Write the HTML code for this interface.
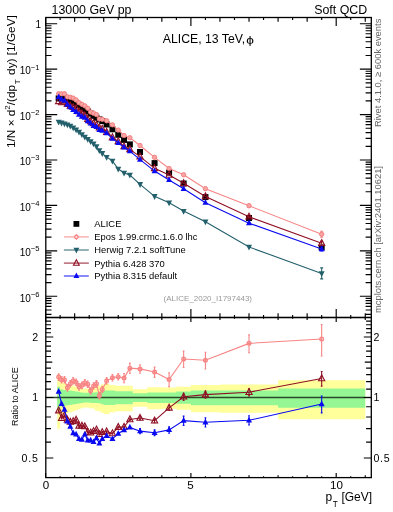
<!DOCTYPE html><html><head><meta charset="utf-8"><style>html,body{margin:0;padding:0;background:#fff;}svg{display:block;}text{font-family:"Liberation Sans",sans-serif;}svg{will-change:transform;}</style></head><body>
<svg width="393" height="512" viewBox="0 0 393 512">
<rect x="0" y="0" width="393" height="512" fill="#fff"/>
<path d="M57.22 374.60L60.13 374.60L60.13 382.32L63.04 382.32L63.04 383.27L65.94 383.27L65.94 384.17L68.85 384.17L68.85 384.92L71.75 384.92L71.75 385.53L74.66 385.53L74.66 386.45L77.57 386.45L77.57 387.22L80.47 387.22L80.47 388.00L83.38 388.00L83.38 388.55L86.28 388.55L86.28 388.55L89.19 388.55L89.19 388.00L92.10 388.00L92.10 387.61L95.00 387.61L95.00 386.06L97.91 386.06L97.91 385.68L100.81 385.68L100.81 384.54L103.72 384.54L103.72 383.65L109.53 383.65L109.53 384.92L115.34 384.92L115.34 385.68L121.16 385.68L121.16 385.68L126.97 385.68L126.97 385.68L132.78 385.68L132.78 389.18L147.31 389.18L147.31 387.22L161.84 387.22L161.84 387.61L176.37 387.61L176.37 386.83L190.90 386.83L190.90 384.92L219.96 384.92L219.96 384.54L278.08 384.54L278.08 380.14L365.26 380.14L365.26 419.19L278.08 419.19L278.08 412.72L219.96 412.72L219.96 412.20L190.90 412.20L190.90 409.66L176.37 409.66L176.37 408.66L161.84 408.66L161.84 409.16L147.31 409.16L147.31 406.70L132.78 406.70L132.78 411.17L126.97 411.17L126.97 411.17L121.16 411.17L121.16 411.17L115.34 411.17L115.34 412.20L109.53 412.20L109.53 413.98L103.72 413.98L103.72 412.72L100.81 412.72L100.81 411.17L97.91 411.17L97.91 410.67L95.00 410.67L95.00 408.66L92.10 408.66L92.10 408.16L89.19 408.16L89.19 407.48L86.28 407.48L86.28 407.48L83.38 407.48L83.38 408.16L80.47 408.16L80.47 409.16L77.57 409.16L77.57 410.16L74.66 410.16L74.66 411.38L71.75 411.38L71.75 412.20L68.85 412.20L68.85 413.24L65.94 413.24L65.94 414.50L63.04 414.50L63.04 415.89L60.13 415.89L60.13 428.64L57.22 428.64Z" fill="#ffff9c"/>
<path d="M57.22 386.83L60.13 386.83L60.13 389.58L63.04 389.58L63.04 390.06L65.94 390.06L65.94 390.38L68.85 390.38L68.85 390.62L71.75 390.62L71.75 390.94L74.66 390.94L74.66 391.43L77.57 391.43L77.57 391.92L80.47 391.92L80.47 392.41L83.38 392.41L83.38 392.74L86.28 392.74L86.28 392.74L89.19 392.74L89.19 392.58L92.10 392.58L92.10 392.41L95.00 392.41L95.00 392.33L97.91 392.33L97.91 392.00L100.81 392.00L100.81 391.19L103.72 391.19L103.72 390.62L109.53 390.62L109.53 390.54L115.34 390.54L115.34 391.19L121.16 391.19L121.16 391.19L126.97 391.19L126.97 391.19L132.78 391.19L132.78 393.24L147.31 393.24L147.31 392.41L161.84 392.41L161.84 392.41L176.37 392.41L176.37 391.59L190.90 391.59L190.90 390.38L219.96 390.38L219.96 390.38L278.08 390.38L278.08 388.39L365.26 388.39L365.26 407.67L278.08 407.67L278.08 405.25L219.96 405.25L219.96 405.25L190.90 405.25L190.90 403.83L176.37 403.83L176.37 402.90L161.84 402.90L161.84 402.90L147.31 402.90L147.31 401.98L132.78 401.98L132.78 404.31L126.97 404.31L126.97 404.31L121.16 404.31L121.16 404.31L115.34 404.31L115.34 405.06L109.53 405.06L109.53 404.97L103.72 404.97L103.72 404.31L100.81 404.31L100.81 403.37L97.91 403.37L97.91 402.99L95.00 402.99L95.00 402.90L92.10 402.90L92.10 402.72L89.19 402.72L89.19 402.53L86.28 402.53L86.28 402.53L83.38 402.53L83.38 402.90L80.47 402.90L80.47 403.46L77.57 403.46L77.57 404.02L74.66 404.02L74.66 404.59L71.75 404.59L71.75 404.97L68.85 404.97L68.85 405.25L65.94 405.25L65.94 405.64L63.04 405.64L63.04 406.21L60.13 406.21L60.13 409.66L57.22 409.66Z" fill="#94f794"/>
<line x1="45.8" y1="397.50" x2="371.3" y2="397.50" stroke="#2a4a2a" stroke-width="1.3"/>
<g stroke="#000" stroke-width="1.3" fill="none">
<rect x="45.8" y="17.5" width="325.5" height="300.0"/>
<rect x="45.8" y="317.5" width="325.5" height="160.10000000000002"/>
</g>
<path d="M45.60 17.50L45.60 26.00M45.60 317.50L45.60 309.00M45.60 317.50L45.60 322.10M45.60 477.60L45.60 473.00M60.13 17.50L60.13 20.10M60.13 317.50L60.13 314.90M60.13 317.50L60.13 318.80M60.13 477.60L60.13 476.30M74.66 17.50L74.66 21.80M74.66 317.50L74.66 313.20M74.66 317.50L74.66 319.90M74.66 477.60L74.66 475.20M89.19 17.50L89.19 20.10M89.19 317.50L89.19 314.90M89.19 317.50L89.19 318.80M89.19 477.60L89.19 476.30M103.72 17.50L103.72 21.80M103.72 317.50L103.72 313.20M103.72 317.50L103.72 319.90M103.72 477.60L103.72 475.20M118.25 17.50L118.25 20.10M118.25 317.50L118.25 314.90M118.25 317.50L118.25 318.80M118.25 477.60L118.25 476.30M132.78 17.50L132.78 21.80M132.78 317.50L132.78 313.20M132.78 317.50L132.78 319.90M132.78 477.60L132.78 475.20M147.31 17.50L147.31 20.10M147.31 317.50L147.31 314.90M147.31 317.50L147.31 318.80M147.31 477.60L147.31 476.30M161.84 17.50L161.84 21.80M161.84 317.50L161.84 313.20M161.84 317.50L161.84 319.90M161.84 477.60L161.84 475.20M176.37 17.50L176.37 20.10M176.37 317.50L176.37 314.90M176.37 317.50L176.37 318.80M176.37 477.60L176.37 476.30M190.90 17.50L190.90 26.00M190.90 317.50L190.90 309.00M190.90 317.50L190.90 322.10M190.90 477.60L190.90 473.00M205.43 17.50L205.43 20.10M205.43 317.50L205.43 314.90M205.43 317.50L205.43 318.80M205.43 477.60L205.43 476.30M219.96 17.50L219.96 21.80M219.96 317.50L219.96 313.20M219.96 317.50L219.96 319.90M219.96 477.60L219.96 475.20M234.49 17.50L234.49 20.10M234.49 317.50L234.49 314.90M234.49 317.50L234.49 318.80M234.49 477.60L234.49 476.30M249.02 17.50L249.02 21.80M249.02 317.50L249.02 313.20M249.02 317.50L249.02 319.90M249.02 477.60L249.02 475.20M263.55 17.50L263.55 20.10M263.55 317.50L263.55 314.90M263.55 317.50L263.55 318.80M263.55 477.60L263.55 476.30M278.08 17.50L278.08 21.80M278.08 317.50L278.08 313.20M278.08 317.50L278.08 319.90M278.08 477.60L278.08 475.20M292.61 17.50L292.61 20.10M292.61 317.50L292.61 314.90M292.61 317.50L292.61 318.80M292.61 477.60L292.61 476.30M307.14 17.50L307.14 21.80M307.14 317.50L307.14 313.20M307.14 317.50L307.14 319.90M307.14 477.60L307.14 475.20M321.67 17.50L321.67 20.10M321.67 317.50L321.67 314.90M321.67 317.50L321.67 318.80M321.67 477.60L321.67 476.30M336.20 17.50L336.20 26.00M336.20 317.50L336.20 309.00M336.20 317.50L336.20 322.10M336.20 477.60L336.20 473.00M350.73 17.50L350.73 20.10M350.73 317.50L350.73 314.90M350.73 317.50L350.73 318.80M350.73 477.60L350.73 476.30M365.26 17.50L365.26 21.80M365.26 317.50L365.26 313.20M365.26 317.50L365.26 319.90M365.26 477.60L365.26 475.20M45.80 314.36L51.50 314.36M371.30 314.36L365.60 314.36M45.80 309.96L51.50 309.96M371.30 309.96L365.60 309.96M45.80 306.36L51.50 306.36M371.30 306.36L365.60 306.36M45.80 303.32L51.50 303.32M371.30 303.32L365.60 303.32M45.80 300.68L51.50 300.68M371.30 300.68L365.60 300.68M45.80 298.36L51.50 298.36M371.30 298.36L365.60 298.36M45.80 296.28L57.20 296.28M371.30 296.28L359.90 296.28M45.80 282.60L51.50 282.60M371.30 282.60L365.60 282.60M45.80 274.60L51.50 274.60M371.30 274.60L365.60 274.60M45.80 268.93L51.50 268.93M371.30 268.93L365.60 268.93M45.80 264.53L51.50 264.53M371.30 264.53L365.60 264.53M45.80 260.93L51.50 260.93M371.30 260.93L365.60 260.93M45.80 257.89L51.50 257.89M371.30 257.89L365.60 257.89M45.80 255.25L51.50 255.25M371.30 255.25L365.60 255.25M45.80 252.93L51.50 252.93M371.30 252.93L365.60 252.93M45.80 250.85L57.20 250.85M371.30 250.85L359.90 250.85M45.80 237.17L51.50 237.17M371.30 237.17L365.60 237.17M45.80 229.17L51.50 229.17M371.30 229.17L365.60 229.17M45.80 223.50L51.50 223.50M371.30 223.50L365.60 223.50M45.80 219.10L51.50 219.10M371.30 219.10L365.60 219.10M45.80 215.50L51.50 215.50M371.30 215.50L365.60 215.50M45.80 212.46L51.50 212.46M371.30 212.46L365.60 212.46M45.80 209.82L51.50 209.82M371.30 209.82L365.60 209.82M45.80 207.50L51.50 207.50M371.30 207.50L365.60 207.50M45.80 205.42L57.20 205.42M371.30 205.42L359.90 205.42M45.80 191.74L51.50 191.74M371.30 191.74L365.60 191.74M45.80 183.74L51.50 183.74M371.30 183.74L365.60 183.74M45.80 178.07L51.50 178.07M371.30 178.07L365.60 178.07M45.80 173.67L51.50 173.67M371.30 173.67L365.60 173.67M45.80 170.07L51.50 170.07M371.30 170.07L365.60 170.07M45.80 167.03L51.50 167.03M371.30 167.03L365.60 167.03M45.80 164.39L51.50 164.39M371.30 164.39L365.60 164.39M45.80 162.07L51.50 162.07M371.30 162.07L365.60 162.07M45.80 159.99L57.20 159.99M371.30 159.99L359.90 159.99M45.80 146.31L51.50 146.31M371.30 146.31L365.60 146.31M45.80 138.31L51.50 138.31M371.30 138.31L365.60 138.31M45.80 132.64L51.50 132.64M371.30 132.64L365.60 132.64M45.80 128.24L51.50 128.24M371.30 128.24L365.60 128.24M45.80 124.64L51.50 124.64M371.30 124.64L365.60 124.64M45.80 121.60L51.50 121.60M371.30 121.60L365.60 121.60M45.80 118.96L51.50 118.96M371.30 118.96L365.60 118.96M45.80 116.64L51.50 116.64M371.30 116.64L365.60 116.64M45.80 114.56L57.20 114.56M371.30 114.56L359.90 114.56M45.80 100.88L51.50 100.88M371.30 100.88L365.60 100.88M45.80 92.88L51.50 92.88M371.30 92.88L365.60 92.88M45.80 87.21L51.50 87.21M371.30 87.21L365.60 87.21M45.80 82.81L51.50 82.81M371.30 82.81L365.60 82.81M45.80 79.21L51.50 79.21M371.30 79.21L365.60 79.21M45.80 76.17L51.50 76.17M371.30 76.17L365.60 76.17M45.80 73.53L51.50 73.53M371.30 73.53L365.60 73.53M45.80 71.21L51.50 71.21M371.30 71.21L365.60 71.21M45.80 69.13L57.20 69.13M371.30 69.13L359.90 69.13M45.80 55.45L51.50 55.45M371.30 55.45L365.60 55.45M45.80 47.45L51.50 47.45M371.30 47.45L365.60 47.45M45.80 41.78L51.50 41.78M371.30 41.78L365.60 41.78M45.80 37.38L51.50 37.38M371.30 37.38L365.60 37.38M45.80 33.78L51.50 33.78M371.30 33.78L365.60 33.78M45.80 30.74L51.50 30.74M371.30 30.74L365.60 30.74M45.80 28.10L51.50 28.10M371.30 28.10L365.60 28.10M45.80 25.78L51.50 25.78M371.30 25.78L365.60 25.78M45.80 23.70L57.20 23.70M371.30 23.70L359.90 23.70M45.80 477.49L51.00 477.49M371.30 477.49L366.10 477.49M45.80 458.01L53.30 458.01M371.30 458.01L363.80 458.01M45.80 442.09L51.00 442.09M371.30 442.09L366.10 442.09M45.80 428.64L51.00 428.64M371.30 428.64L366.10 428.64M45.80 416.98L51.00 416.98M371.30 416.98L366.10 416.98M45.80 406.70L51.00 406.70M371.30 406.70L366.10 406.70M45.80 397.50L53.30 397.50M371.30 397.50L363.80 397.50M45.80 389.18L51.00 389.18M371.30 389.18L366.10 389.18M45.80 381.58L51.00 381.58M371.30 381.58L366.10 381.58M45.80 374.60L51.00 374.60M371.30 374.60L366.10 374.60M45.80 368.13L51.00 368.13M371.30 368.13L366.10 368.13M45.80 362.11L52.30 362.11M371.30 362.11L364.80 362.11M45.80 356.47L51.00 356.47M371.30 356.47L366.10 356.47M45.80 351.18L51.00 351.18M371.30 351.18L366.10 351.18M45.80 346.19L51.00 346.19M371.30 346.19L366.10 346.19M45.80 341.47L51.00 341.47M371.30 341.47L366.10 341.47M45.80 336.99L53.30 336.99M371.30 336.99L363.80 336.99M45.80 332.73L51.00 332.73M371.30 332.73L366.10 332.73M45.80 328.67L51.00 328.67M371.30 328.67L366.10 328.67M45.80 324.79L51.00 324.79M371.30 324.79L366.10 324.79M45.80 321.08L51.00 321.08M371.30 321.08L366.10 321.08M45.80 317.51L51.00 317.51M371.30 317.51L366.10 317.51" stroke="#000" stroke-width="1.15" fill="none"/>
<text x="51.50" y="14.30" font-size="12.4" text-anchor="start" >13000 GeV pp</text>
<text x="367.20" y="14.30" font-size="12.4" text-anchor="end" >Soft QCD</text>
<text x="162.80" y="43.20" font-size="12.25" text-anchor="start" >ALICE, 13 TeV,</text>
<text transform="translate(246.3,43.9) scale(1.12,0.93)" font-size="12.25">ϕ</text>
<text x="41.00" y="27.50" font-size="10" text-anchor="end" >1</text>
<text x="30.90" y="74.43" font-size="10" text-anchor="end">10</text>
<text x="30.70" y="69.63" font-size="7.6" letter-spacing="0.1">−1</text>
<text x="30.90" y="119.86" font-size="10" text-anchor="end">10</text>
<text x="30.70" y="115.06" font-size="7.6" letter-spacing="0.1">−2</text>
<text x="30.90" y="165.29" font-size="10" text-anchor="end">10</text>
<text x="30.70" y="160.49" font-size="7.6" letter-spacing="0.1">−3</text>
<text x="30.90" y="210.72" font-size="10" text-anchor="end">10</text>
<text x="30.70" y="205.92" font-size="7.6" letter-spacing="0.1">−4</text>
<text x="30.90" y="256.15" font-size="10" text-anchor="end">10</text>
<text x="30.70" y="251.35" font-size="7.6" letter-spacing="0.1">−5</text>
<text x="30.90" y="301.58" font-size="10" text-anchor="end">10</text>
<text x="30.70" y="296.78" font-size="7.6" letter-spacing="0.1">−6</text>
<text x="46.10" y="489.00" font-size="11.6" text-anchor="middle" >0</text>
<text x="190.50" y="489.00" font-size="11.6" text-anchor="middle" >5</text>
<text x="336.50" y="489.00" font-size="11.6" text-anchor="middle" >10</text>
<text x="38.20" y="340.79" font-size="10.6" text-anchor="end" >2</text>
<text x="373.50" y="340.79" font-size="10.6" text-anchor="start" >2</text>
<text x="38.20" y="401.30" font-size="10.6" text-anchor="end" >1</text>
<text x="373.50" y="401.30" font-size="10.6" text-anchor="start" >1</text>
<text x="21.6" y="461.81" font-size="10.6" textLength="16.2" lengthAdjust="spacing">0.5</text>
<text x="373.5" y="461.81" font-size="10.6" textLength="16.2" lengthAdjust="spacing">0.5</text>
<text transform="translate(15.1,148) rotate(-90)" font-size="11.8">1/N × d<tspan dy="-5" font-size="8">2</tspan><tspan dy="5">/(dp</tspan><tspan dy="4.5" dx="0.6" font-size="8">T</tspan><tspan dy="-4.5" dx="1.2"> dy) [1/GeV]</tspan></text>
<text transform="translate(18.0,426) rotate(-90)" font-size="9.3" textLength="58.6" lengthAdjust="spacingAndGlyphs">Ratio to ALICE</text>
<text transform="translate(380.5,127) rotate(-90)" font-size="9.4" fill="#666">Rivet 4.1.0, ≥ 600k events</text>
<text transform="translate(380.5,313) rotate(-90)" font-size="9.4" fill="#666">mcplots.cern.ch [arXiv:2401.10621]</text>
<text x="163.50" y="300.50" font-size="8.0" text-anchor="start" fill="#999">(ALICE_2020_I1797443)</text>
<text x="325.4" y="501.1" font-size="12">p<tspan dy="5.5" dx="0.6" font-size="8.2">T</tspan><tspan dy="-5.5" dx="0.4"> [GeV]</tspan></text>
<defs><clipPath id="cm"><rect x="45.8" y="17.5" width="325.5" height="300.0"/></clipPath><clipPath id="cr"><rect x="45.8" y="317.5" width="325.5" height="160.10000000000002"/></clipPath></defs>
<g clip-path="url(#cm)">
<polyline points="58.68,122.00 61.58,122.80 64.49,123.60 67.39,124.70 70.30,125.90 73.21,127.70 76.11,129.70 79.02,131.90 81.92,134.40 84.83,137.00 87.74,139.20 90.64,141.40 93.55,143.60 96.45,146.50 99.36,150.50 102.27,153.30 106.63,157.10 112.44,160.90 118.25,169.00 124.06,172.90 129.87,175.00 140.04,184.30 154.57,196.30 169.10,202.70 183.63,211.10 205.43,221.70 249.02,247.00 321.67,273.40" fill="none" stroke="#23606b" stroke-width="1.1"/>
<path d="M321.67 267.90L321.67 278.90M320.17 267.90L323.17 267.90M320.17 278.90L323.17 278.90" stroke="#23606b" stroke-width="1.1"/>
<path d="M58.68 125.61L61.68 119.79L55.68 119.79Z" fill="#23606b"/>
<path d="M61.58 126.41L64.58 120.59L58.58 120.59Z" fill="#23606b"/>
<path d="M64.49 127.21L67.49 121.39L61.49 121.39Z" fill="#23606b"/>
<path d="M67.39 128.31L70.39 122.49L64.39 122.49Z" fill="#23606b"/>
<path d="M70.30 129.51L73.30 123.69L67.30 123.69Z" fill="#23606b"/>
<path d="M73.21 131.31L76.21 125.49L70.21 125.49Z" fill="#23606b"/>
<path d="M76.11 133.31L79.11 127.49L73.11 127.49Z" fill="#23606b"/>
<path d="M79.02 135.51L82.02 129.69L76.02 129.69Z" fill="#23606b"/>
<path d="M81.92 138.01L84.92 132.19L78.92 132.19Z" fill="#23606b"/>
<path d="M84.83 140.61L87.83 134.79L81.83 134.79Z" fill="#23606b"/>
<path d="M87.74 142.81L90.74 136.99L84.74 136.99Z" fill="#23606b"/>
<path d="M90.64 145.01L93.64 139.19L87.64 139.19Z" fill="#23606b"/>
<path d="M93.55 147.21L96.55 141.39L90.55 141.39Z" fill="#23606b"/>
<path d="M96.45 150.11L99.45 144.29L93.45 144.29Z" fill="#23606b"/>
<path d="M99.36 154.11L102.36 148.29L96.36 148.29Z" fill="#23606b"/>
<path d="M102.27 156.91L105.27 151.09L99.27 151.09Z" fill="#23606b"/>
<path d="M106.63 160.71L109.63 154.89L103.63 154.89Z" fill="#23606b"/>
<path d="M112.44 164.51L115.44 158.69L109.44 158.69Z" fill="#23606b"/>
<path d="M118.25 172.61L121.25 166.79L115.25 166.79Z" fill="#23606b"/>
<path d="M124.06 176.51L127.06 170.69L121.06 170.69Z" fill="#23606b"/>
<path d="M129.87 178.61L132.87 172.79L126.87 172.79Z" fill="#23606b"/>
<path d="M140.04 187.91L143.04 182.09L137.04 182.09Z" fill="#23606b"/>
<path d="M154.57 199.91L157.57 194.09L151.57 194.09Z" fill="#23606b"/>
<path d="M169.10 206.31L172.10 200.49L166.10 200.49Z" fill="#23606b"/>
<path d="M183.63 214.71L186.63 208.89L180.63 208.89Z" fill="#23606b"/>
<path d="M205.43 225.31L208.43 219.49L202.43 219.49Z" fill="#23606b"/>
<path d="M249.02 250.61L252.02 244.79L246.02 244.79Z" fill="#23606b"/>
<path d="M321.67 277.01L324.67 271.19L318.67 271.19Z" fill="#23606b"/>
<rect x="55.68" y="95.40" width="6.0" height="6.0" fill="#000"/>
<rect x="58.58" y="94.90" width="6.0" height="6.0" fill="#000"/>
<rect x="61.49" y="94.80" width="6.0" height="6.0" fill="#000"/>
<rect x="64.39" y="96.10" width="6.0" height="6.0" fill="#000"/>
<rect x="67.30" y="97.40" width="6.0" height="6.0" fill="#000"/>
<rect x="70.21" y="98.90" width="6.0" height="6.0" fill="#000"/>
<rect x="73.11" y="100.40" width="6.0" height="6.0" fill="#000"/>
<rect x="76.02" y="102.10" width="6.0" height="6.0" fill="#000"/>
<rect x="78.92" y="104.10" width="6.0" height="6.0" fill="#000"/>
<rect x="81.83" y="106.20" width="6.0" height="6.0" fill="#000"/>
<rect x="84.74" y="108.30" width="6.0" height="6.0" fill="#000"/>
<rect x="87.64" y="110.60" width="6.0" height="6.0" fill="#000"/>
<rect x="90.55" y="112.80" width="6.0" height="6.0" fill="#000"/>
<rect x="93.45" y="114.70" width="6.0" height="6.0" fill="#000"/>
<rect x="96.36" y="116.40" width="6.0" height="6.0" fill="#000"/>
<rect x="99.27" y="118.10" width="6.0" height="6.0" fill="#000"/>
<rect x="103.63" y="121.50" width="6.0" height="6.0" fill="#000"/>
<rect x="109.44" y="126.30" width="6.0" height="6.0" fill="#000"/>
<rect x="115.25" y="131.80" width="6.0" height="6.0" fill="#000"/>
<rect x="121.06" y="136.90" width="6.0" height="6.0" fill="#000"/>
<rect x="126.87" y="141.40" width="6.0" height="6.0" fill="#000"/>
<rect x="137.04" y="149.00" width="6.0" height="6.0" fill="#000"/>
<rect x="151.57" y="160.10" width="6.0" height="6.0" fill="#000"/>
<rect x="166.10" y="169.60" width="6.0" height="6.0" fill="#000"/>
<rect x="180.63" y="180.50" width="6.0" height="6.0" fill="#000"/>
<rect x="202.43" y="194.10" width="6.0" height="6.0" fill="#000"/>
<rect x="246.02" y="215.00" width="6.0" height="6.0" fill="#000"/>
<rect x="318.67" y="244.50" width="6.0" height="6.0" fill="#000"/>
<polyline points="58.68,93.79 61.58,93.88 64.49,93.78 67.39,96.90 70.30,97.29 73.21,98.11 76.11,99.95 79.02,102.67 81.92,104.34 84.83,105.85 87.74,108.29 90.64,112.08 93.55,113.18 96.45,114.60 99.36,118.95 102.27,119.27 106.63,120.72 112.44,124.83 118.25,130.10 124.06,135.50 129.87,137.76 140.04,145.53 154.57,157.36 169.10,168.53 183.63,174.79 205.43,188.68 249.02,205.77 321.67,234.26" fill="none" stroke="#f88585" stroke-width="1.1"/>
<path d="M249.02 204.27L249.02 207.27M247.52 204.27L250.52 204.27M247.52 207.27L250.52 207.27" stroke="#f88585" stroke-width="1.1"/>
<path d="M321.67 231.26L321.67 237.26M320.17 231.26L323.17 231.26M320.17 237.26L323.17 237.26" stroke="#f88585" stroke-width="1.1"/>
<path d="M205.43 187.68L205.43 189.68M203.93 187.68L206.93 187.68M203.93 189.68L206.93 189.68" stroke="#f88585" stroke-width="1.1"/>
<circle cx="58.68" cy="93.79" r="2.2" fill="#f9a5a5" stroke="#f27a7a" stroke-width="0.9"/>
<circle cx="61.58" cy="93.88" r="2.2" fill="#f9a5a5" stroke="#f27a7a" stroke-width="0.9"/>
<circle cx="64.49" cy="93.78" r="2.2" fill="#f9a5a5" stroke="#f27a7a" stroke-width="0.9"/>
<circle cx="67.39" cy="96.90" r="2.2" fill="#f9a5a5" stroke="#f27a7a" stroke-width="0.9"/>
<circle cx="70.30" cy="97.29" r="2.2" fill="#f9a5a5" stroke="#f27a7a" stroke-width="0.9"/>
<circle cx="73.21" cy="98.11" r="2.2" fill="#f9a5a5" stroke="#f27a7a" stroke-width="0.9"/>
<circle cx="76.11" cy="99.95" r="2.2" fill="#f9a5a5" stroke="#f27a7a" stroke-width="0.9"/>
<circle cx="79.02" cy="102.67" r="2.2" fill="#f9a5a5" stroke="#f27a7a" stroke-width="0.9"/>
<circle cx="81.92" cy="104.34" r="2.2" fill="#f9a5a5" stroke="#f27a7a" stroke-width="0.9"/>
<circle cx="84.83" cy="105.85" r="2.2" fill="#f9a5a5" stroke="#f27a7a" stroke-width="0.9"/>
<circle cx="87.74" cy="108.29" r="2.2" fill="#f9a5a5" stroke="#f27a7a" stroke-width="0.9"/>
<circle cx="90.64" cy="112.08" r="2.2" fill="#f9a5a5" stroke="#f27a7a" stroke-width="0.9"/>
<circle cx="93.55" cy="113.18" r="2.2" fill="#f9a5a5" stroke="#f27a7a" stroke-width="0.9"/>
<circle cx="96.45" cy="114.60" r="2.2" fill="#f9a5a5" stroke="#f27a7a" stroke-width="0.9"/>
<circle cx="99.36" cy="118.95" r="2.2" fill="#f9a5a5" stroke="#f27a7a" stroke-width="0.9"/>
<circle cx="102.27" cy="119.27" r="2.2" fill="#f9a5a5" stroke="#f27a7a" stroke-width="0.9"/>
<circle cx="106.63" cy="120.72" r="2.2" fill="#f9a5a5" stroke="#f27a7a" stroke-width="0.9"/>
<circle cx="112.44" cy="124.83" r="2.2" fill="#f9a5a5" stroke="#f27a7a" stroke-width="0.9"/>
<circle cx="118.25" cy="130.10" r="2.2" fill="#f9a5a5" stroke="#f27a7a" stroke-width="0.9"/>
<circle cx="124.06" cy="135.50" r="2.2" fill="#f9a5a5" stroke="#f27a7a" stroke-width="0.9"/>
<circle cx="129.87" cy="137.76" r="2.2" fill="#f9a5a5" stroke="#f27a7a" stroke-width="0.9"/>
<circle cx="140.04" cy="145.53" r="2.2" fill="#f9a5a5" stroke="#f27a7a" stroke-width="0.9"/>
<circle cx="154.57" cy="157.36" r="2.2" fill="#f9a5a5" stroke="#f27a7a" stroke-width="0.9"/>
<circle cx="169.10" cy="168.53" r="2.2" fill="#f9a5a5" stroke="#f27a7a" stroke-width="0.9"/>
<circle cx="183.63" cy="174.79" r="2.2" fill="#f9a5a5" stroke="#f27a7a" stroke-width="0.9"/>
<circle cx="205.43" cy="188.68" r="2.2" fill="#f9a5a5" stroke="#f27a7a" stroke-width="0.9"/>
<circle cx="249.02" cy="205.77" r="2.2" fill="#f9a5a5" stroke="#f27a7a" stroke-width="0.9"/>
<circle cx="321.67" cy="234.26" r="2.2" fill="#f9a5a5" stroke="#f27a7a" stroke-width="0.9"/>
<polyline points="58.68,101.38 61.58,102.58 64.49,101.88 67.39,104.15 70.30,105.94 73.21,107.29 76.11,108.45 79.02,111.53 81.92,113.53 84.83,115.76 87.74,119.11 90.64,121.56 93.55,123.44 96.45,124.99 99.36,127.72 102.27,128.97 106.63,132.20 112.44,137.44 118.25,141.50 124.06,146.57 129.87,149.38 140.04,156.65 154.57,168.36 169.10,174.94 183.63,183.34 205.43,196.46 249.02,216.81 321.67,243.21" fill="none" stroke="#8f0f24" stroke-width="1.1"/>
<path d="M321.67 241.21L321.67 245.21M320.17 241.21L323.17 241.21M320.17 245.21L323.17 245.21" stroke="#8f0f24" stroke-width="1.1"/>
<path d="M249.02 216.01L249.02 217.61M247.52 216.01L250.52 216.01M247.52 217.61L250.52 217.61" stroke="#8f0f24" stroke-width="1.1"/>
<path d="M58.68 97.72L61.78 103.61L55.58 103.61Z" fill="none" stroke="#8f0f24" stroke-width="1.1"/>
<path d="M61.58 98.92L64.68 104.81L58.48 104.81Z" fill="none" stroke="#8f0f24" stroke-width="1.1"/>
<path d="M64.49 98.23L67.59 104.12L61.39 104.12Z" fill="none" stroke="#8f0f24" stroke-width="1.1"/>
<path d="M67.39 100.50L70.49 106.39L64.30 106.39Z" fill="none" stroke="#8f0f24" stroke-width="1.1"/>
<path d="M70.30 102.29L73.40 108.18L67.20 108.18Z" fill="none" stroke="#8f0f24" stroke-width="1.1"/>
<path d="M73.21 103.64L76.31 109.53L70.11 109.53Z" fill="none" stroke="#8f0f24" stroke-width="1.1"/>
<path d="M76.11 104.80L79.21 110.69L73.01 110.69Z" fill="none" stroke="#8f0f24" stroke-width="1.1"/>
<path d="M79.02 107.87L82.12 113.76L75.92 113.76Z" fill="none" stroke="#8f0f24" stroke-width="1.1"/>
<path d="M81.92 109.87L85.02 115.76L78.83 115.76Z" fill="none" stroke="#8f0f24" stroke-width="1.1"/>
<path d="M84.83 112.11L87.93 118.00L81.73 118.00Z" fill="none" stroke="#8f0f24" stroke-width="1.1"/>
<path d="M87.74 115.46L90.84 121.35L84.64 121.35Z" fill="none" stroke="#8f0f24" stroke-width="1.1"/>
<path d="M90.64 117.91L93.74 123.80L87.54 123.80Z" fill="none" stroke="#8f0f24" stroke-width="1.1"/>
<path d="M93.55 119.79L96.65 125.68L90.45 125.68Z" fill="none" stroke="#8f0f24" stroke-width="1.1"/>
<path d="M96.45 121.34L99.55 127.23L93.36 127.23Z" fill="none" stroke="#8f0f24" stroke-width="1.1"/>
<path d="M99.36 124.07L102.46 129.96L96.26 129.96Z" fill="none" stroke="#8f0f24" stroke-width="1.1"/>
<path d="M102.27 125.32L105.37 131.21L99.17 131.21Z" fill="none" stroke="#8f0f24" stroke-width="1.1"/>
<path d="M106.63 128.54L109.73 134.43L103.53 134.43Z" fill="none" stroke="#8f0f24" stroke-width="1.1"/>
<path d="M112.44 133.79L115.54 139.68L109.34 139.68Z" fill="none" stroke="#8f0f24" stroke-width="1.1"/>
<path d="M118.25 137.85L121.35 143.74L115.15 143.74Z" fill="none" stroke="#8f0f24" stroke-width="1.1"/>
<path d="M124.06 142.92L127.16 148.81L120.96 148.81Z" fill="none" stroke="#8f0f24" stroke-width="1.1"/>
<path d="M129.87 145.73L132.97 151.62L126.77 151.62Z" fill="none" stroke="#8f0f24" stroke-width="1.1"/>
<path d="M140.04 153.00L143.14 158.89L136.94 158.89Z" fill="none" stroke="#8f0f24" stroke-width="1.1"/>
<path d="M154.57 164.71L157.67 170.60L151.47 170.60Z" fill="none" stroke="#8f0f24" stroke-width="1.1"/>
<path d="M169.10 171.29L172.20 177.18L166.00 177.18Z" fill="none" stroke="#8f0f24" stroke-width="1.1"/>
<path d="M183.63 179.69L186.73 185.58L180.53 185.58Z" fill="none" stroke="#8f0f24" stroke-width="1.1"/>
<path d="M205.43 192.81L208.53 198.70L202.33 198.70Z" fill="none" stroke="#8f0f24" stroke-width="1.1"/>
<path d="M249.02 213.16L252.12 219.05L245.92 219.05Z" fill="none" stroke="#8f0f24" stroke-width="1.1"/>
<path d="M321.67 239.56L324.77 245.45L318.57 245.45Z" fill="none" stroke="#8f0f24" stroke-width="1.1"/>
<polyline points="58.68,97.05 61.58,99.31 64.49,100.52 67.39,104.49 70.30,106.96 73.21,109.95 76.11,111.72 79.02,114.47 81.92,116.63 84.83,117.52 87.74,120.99 90.64,123.29 93.55,125.85 96.45,126.88 99.36,129.78 102.27,130.47 106.63,133.15 112.44,138.67 118.25,142.94 124.06,147.25 129.87,151.16 140.04,159.61 154.57,171.06 169.10,179.92 183.63,188.73 205.43,202.70 249.02,223.16 321.67,248.97" fill="none" stroke="#0a0af0" stroke-width="1.1"/>
<path d="M321.67 246.97L321.67 250.97M320.17 246.97L323.17 246.97M320.17 250.97L323.17 250.97" stroke="#0a0af0" stroke-width="1.1"/>
<path d="M249.02 222.36L249.02 223.96M247.52 222.36L250.52 222.36M247.52 223.96L250.52 223.96" stroke="#0a0af0" stroke-width="1.1"/>
<path d="M58.68 93.51L61.68 99.21L55.68 99.21Z" fill="#0a0af0"/>
<path d="M61.58 95.78L64.58 101.48L58.58 101.48Z" fill="#0a0af0"/>
<path d="M64.49 96.99L67.49 102.69L61.49 102.69Z" fill="#0a0af0"/>
<path d="M67.39 100.95L70.39 106.65L64.39 106.65Z" fill="#0a0af0"/>
<path d="M70.30 103.43L73.30 109.13L67.30 109.13Z" fill="#0a0af0"/>
<path d="M73.21 106.42L76.21 112.12L70.21 112.12Z" fill="#0a0af0"/>
<path d="M76.11 108.18L79.11 113.88L73.11 113.88Z" fill="#0a0af0"/>
<path d="M79.02 110.93L82.02 116.63L76.02 116.63Z" fill="#0a0af0"/>
<path d="M81.92 113.09L84.92 118.79L78.92 118.79Z" fill="#0a0af0"/>
<path d="M84.83 113.98L87.83 119.68L81.83 119.68Z" fill="#0a0af0"/>
<path d="M87.74 117.45L90.74 123.15L84.74 123.15Z" fill="#0a0af0"/>
<path d="M90.64 119.75L93.64 125.45L87.64 125.45Z" fill="#0a0af0"/>
<path d="M93.55 122.31L96.55 128.01L90.55 128.01Z" fill="#0a0af0"/>
<path d="M96.45 123.34L99.45 129.04L93.45 129.04Z" fill="#0a0af0"/>
<path d="M99.36 126.24L102.36 131.94L96.36 131.94Z" fill="#0a0af0"/>
<path d="M102.27 126.93L105.27 132.63L99.27 132.63Z" fill="#0a0af0"/>
<path d="M106.63 129.62L109.63 135.32L103.63 135.32Z" fill="#0a0af0"/>
<path d="M112.44 135.13L115.44 140.83L109.44 140.83Z" fill="#0a0af0"/>
<path d="M118.25 139.40L121.25 145.10L115.25 145.10Z" fill="#0a0af0"/>
<path d="M124.06 143.72L127.06 149.42L121.06 149.42Z" fill="#0a0af0"/>
<path d="M129.87 147.62L132.87 153.32L126.87 153.32Z" fill="#0a0af0"/>
<path d="M140.04 156.08L143.04 161.78L137.04 161.78Z" fill="#0a0af0"/>
<path d="M154.57 167.53L157.57 173.23L151.57 173.23Z" fill="#0a0af0"/>
<path d="M169.10 176.39L172.10 182.09L166.10 182.09Z" fill="#0a0af0"/>
<path d="M183.63 185.20L186.63 190.90L180.63 190.90Z" fill="#0a0af0"/>
<path d="M205.43 199.16L208.43 204.86L202.43 204.86Z" fill="#0a0af0"/>
<path d="M249.02 219.62L252.02 225.32L246.02 225.32Z" fill="#0a0af0"/>
<path d="M321.67 245.44L324.67 251.14L318.67 251.14Z" fill="#0a0af0"/>
</g>
<g clip-path="url(#cr)">
<polyline points="58.68,377.12 61.58,379.71 64.49,379.71 67.39,387.76 70.30,383.72 73.21,380.72 76.11,382.24 79.02,386.75 81.92,385.30 84.83,382.68 87.74,384.17 90.64,390.78 93.55,385.91 96.45,383.79 99.36,395.51 102.27,389.42 106.63,380.79 112.44,377.74 118.25,376.70 124.06,378.02 129.87,368.13 140.04,368.88 154.57,372.08 169.10,379.50 183.63,358.96 205.43,360.26 249.02,343.37 321.67,338.93" fill="none" stroke="#f88585" stroke-width="1.1"/>
<path d="M58.68 373.92L58.68 380.44M57.78 373.92L59.58 373.92M57.78 380.44L59.58 380.44" stroke="#f88585" stroke-width="1.1"/>
<circle cx="58.68" cy="377.12" r="1.8" fill="none" stroke="#f88585" stroke-width="1.4"/>
<path d="M61.58 376.51L61.58 383.04M60.68 376.51L62.48 376.51M60.68 383.04L62.48 383.04" stroke="#f88585" stroke-width="1.1"/>
<circle cx="61.58" cy="379.71" r="1.8" fill="none" stroke="#f88585" stroke-width="1.4"/>
<path d="M64.49 376.51L64.49 383.04M63.59 376.51L65.39 376.51M63.59 383.04L65.39 383.04" stroke="#f88585" stroke-width="1.1"/>
<circle cx="64.49" cy="379.71" r="1.8" fill="none" stroke="#f88585" stroke-width="1.4"/>
<path d="M67.39 384.56L67.39 391.08M66.49 384.56L68.30 384.56M66.49 391.08L68.30 391.08" stroke="#f88585" stroke-width="1.1"/>
<circle cx="67.39" cy="387.76" r="1.8" fill="none" stroke="#f88585" stroke-width="1.4"/>
<path d="M70.30 380.52L70.30 387.04M69.40 380.52L71.20 380.52M69.40 387.04L71.20 387.04" stroke="#f88585" stroke-width="1.1"/>
<circle cx="70.30" cy="383.72" r="1.8" fill="none" stroke="#f88585" stroke-width="1.4"/>
<path d="M73.21 377.52L73.21 384.04M72.31 377.52L74.11 377.52M72.31 384.04L74.11 384.04" stroke="#f88585" stroke-width="1.1"/>
<circle cx="73.21" cy="380.72" r="1.8" fill="none" stroke="#f88585" stroke-width="1.4"/>
<path d="M76.11 379.04L76.11 385.56M75.21 379.04L77.01 379.04M75.21 385.56L77.01 385.56" stroke="#f88585" stroke-width="1.1"/>
<circle cx="76.11" cy="382.24" r="1.8" fill="none" stroke="#f88585" stroke-width="1.4"/>
<path d="M79.02 383.55L79.02 390.08M78.12 383.55L79.92 383.55M78.12 390.08L79.92 390.08" stroke="#f88585" stroke-width="1.1"/>
<circle cx="79.02" cy="386.75" r="1.8" fill="none" stroke="#f88585" stroke-width="1.4"/>
<path d="M81.92 382.10L81.92 388.62M81.02 382.10L82.83 382.10M81.02 388.62L82.83 388.62" stroke="#f88585" stroke-width="1.1"/>
<circle cx="81.92" cy="385.30" r="1.8" fill="none" stroke="#f88585" stroke-width="1.4"/>
<path d="M84.83 379.48L84.83 386.00M83.93 379.48L85.73 379.48M83.93 386.00L85.73 386.00" stroke="#f88585" stroke-width="1.1"/>
<circle cx="84.83" cy="382.68" r="1.8" fill="none" stroke="#f88585" stroke-width="1.4"/>
<path d="M87.74 380.97L87.74 387.49M86.84 380.97L88.64 380.97M86.84 387.49L88.64 387.49" stroke="#f88585" stroke-width="1.1"/>
<circle cx="87.74" cy="384.17" r="1.8" fill="none" stroke="#f88585" stroke-width="1.4"/>
<path d="M90.64 387.58L90.64 394.10M89.74 387.58L91.54 387.58M89.74 394.10L91.54 394.10" stroke="#f88585" stroke-width="1.1"/>
<circle cx="90.64" cy="390.78" r="1.8" fill="none" stroke="#f88585" stroke-width="1.4"/>
<path d="M93.55 382.71L93.55 389.23M92.65 382.71L94.45 382.71M92.65 389.23L94.45 389.23" stroke="#f88585" stroke-width="1.1"/>
<circle cx="93.55" cy="385.91" r="1.8" fill="none" stroke="#f88585" stroke-width="1.4"/>
<path d="M96.45 380.59L96.45 387.12M95.55 380.59L97.36 380.59M95.55 387.12L97.36 387.12" stroke="#f88585" stroke-width="1.1"/>
<circle cx="96.45" cy="383.79" r="1.8" fill="none" stroke="#f88585" stroke-width="1.4"/>
<path d="M99.36 392.31L99.36 398.84M98.46 392.31L100.26 392.31M98.46 398.84L100.26 398.84" stroke="#f88585" stroke-width="1.1"/>
<circle cx="99.36" cy="395.51" r="1.8" fill="none" stroke="#f88585" stroke-width="1.4"/>
<path d="M102.27 386.22L102.27 392.74M101.37 386.22L103.17 386.22M101.37 392.74L103.17 392.74" stroke="#f88585" stroke-width="1.1"/>
<circle cx="102.27" cy="389.42" r="1.8" fill="none" stroke="#f88585" stroke-width="1.4"/>
<path d="M106.63 377.59L106.63 384.11M105.73 377.59L107.53 377.59M105.73 384.11L107.53 384.11" stroke="#f88585" stroke-width="1.1"/>
<circle cx="106.63" cy="380.79" r="1.8" fill="none" stroke="#f88585" stroke-width="1.4"/>
<path d="M112.44 374.54L112.44 381.06M111.54 374.54L113.34 374.54M111.54 381.06L113.34 381.06" stroke="#f88585" stroke-width="1.1"/>
<circle cx="112.44" cy="377.74" r="1.8" fill="none" stroke="#f88585" stroke-width="1.4"/>
<path d="M118.25 373.50L118.25 380.03M117.35 373.50L119.15 373.50M117.35 380.03L119.15 380.03" stroke="#f88585" stroke-width="1.1"/>
<circle cx="118.25" cy="376.70" r="1.8" fill="none" stroke="#f88585" stroke-width="1.4"/>
<path d="M124.06 373.52L124.06 382.77M123.16 373.52L124.96 373.52M123.16 382.77L124.96 382.77" stroke="#f88585" stroke-width="1.1"/>
<circle cx="124.06" cy="378.02" r="1.8" fill="none" stroke="#f88585" stroke-width="1.4"/>
<path d="M129.87 363.13L129.87 373.43M128.97 363.13L130.77 363.13M128.97 373.43L130.77 373.43" stroke="#f88585" stroke-width="1.1"/>
<circle cx="129.87" cy="368.13" r="1.8" fill="none" stroke="#f88585" stroke-width="1.4"/>
<path d="M140.04 364.68L140.04 373.29M139.14 364.68L140.94 364.68M139.14 373.29L140.94 373.29" stroke="#f88585" stroke-width="1.1"/>
<circle cx="140.04" cy="368.88" r="1.8" fill="none" stroke="#f88585" stroke-width="1.4"/>
<path d="M154.57 367.08L154.57 377.39M153.67 367.08L155.47 367.08M153.67 377.39L155.47 377.39" stroke="#f88585" stroke-width="1.1"/>
<circle cx="154.57" cy="372.08" r="1.8" fill="none" stroke="#f88585" stroke-width="1.4"/>
<path d="M169.10 372.90L169.10 386.64M168.20 372.90L170.00 372.90M168.20 386.64L170.00 386.64" stroke="#f88585" stroke-width="1.1"/>
<circle cx="169.10" cy="379.50" r="1.8" fill="none" stroke="#f88585" stroke-width="1.4"/>
<path d="M183.63 351.16L183.63 367.53M182.73 351.16L184.53 351.16M182.73 367.53L184.53 367.53" stroke="#f88585" stroke-width="1.1"/>
<circle cx="183.63" cy="358.96" r="1.8" fill="none" stroke="#f88585" stroke-width="1.4"/>
<path d="M205.43 352.26L205.43 369.07M204.53 352.26L206.33 352.26M204.53 369.07L206.33 369.07" stroke="#f88585" stroke-width="1.1"/>
<circle cx="205.43" cy="360.26" r="1.8" fill="none" stroke="#f88585" stroke-width="1.4"/>
<path d="M249.02 334.87L249.02 352.79M248.12 334.87L249.92 334.87M248.12 352.79L249.92 352.79" stroke="#f88585" stroke-width="1.1"/>
<circle cx="249.02" cy="343.37" r="1.8" fill="none" stroke="#f88585" stroke-width="1.4"/>
<path d="M321.67 324.63L321.67 356.05M320.77 324.63L322.57 324.63M320.77 356.05L322.57 356.05" stroke="#f88585" stroke-width="1.1"/>
<circle cx="321.67" cy="338.93" r="1.8" fill="none" stroke="#f88585" stroke-width="1.4"/>
<polyline points="58.68,410.67 61.58,418.19 64.49,415.57 67.39,419.86 70.30,422.03 73.21,421.34 76.11,419.86 79.02,425.93 81.92,425.93 84.83,426.54 87.74,432.07 90.64,432.72 93.55,431.29 96.45,429.76 99.36,434.30 102.27,432.33 106.63,431.55 112.44,433.51 118.25,427.15 124.06,427.03 129.87,419.53 140.04,418.08 154.57,420.77 169.10,407.87 183.63,396.80 205.43,394.67 249.02,392.25 321.67,378.51" fill="none" stroke="#8f0f24" stroke-width="1.1"/>
<path d="M58.68 409.87L58.68 411.47M57.78 409.87L59.58 409.87M57.78 411.47L59.58 411.47" stroke="#8f0f24" stroke-width="1.1"/>
<path d="M58.68 407.01L61.78 412.90L55.58 412.90Z" fill="none" stroke="#8f0f24" stroke-width="1.1"/>
<path d="M61.58 417.39L61.58 418.99M60.68 417.39L62.48 417.39M60.68 418.99L62.48 418.99" stroke="#8f0f24" stroke-width="1.1"/>
<path d="M61.58 414.54L64.68 420.43L58.48 420.43Z" fill="none" stroke="#8f0f24" stroke-width="1.1"/>
<path d="M64.49 414.77L64.49 416.38M63.59 414.77L65.39 414.77M63.59 416.38L65.39 416.38" stroke="#8f0f24" stroke-width="1.1"/>
<path d="M64.49 411.92L67.59 417.81L61.39 417.81Z" fill="none" stroke="#8f0f24" stroke-width="1.1"/>
<path d="M67.39 419.06L67.39 420.67M66.49 419.06L68.30 419.06M66.49 420.67L68.30 420.67" stroke="#8f0f24" stroke-width="1.1"/>
<path d="M67.39 416.21L70.49 422.10L64.30 422.10Z" fill="none" stroke="#8f0f24" stroke-width="1.1"/>
<path d="M70.30 421.23L70.30 422.84M69.40 421.23L71.20 421.23M69.40 422.84L71.20 422.84" stroke="#8f0f24" stroke-width="1.1"/>
<path d="M70.30 418.38L73.40 424.27L67.20 424.27Z" fill="none" stroke="#8f0f24" stroke-width="1.1"/>
<path d="M73.21 420.54L73.21 422.15M72.31 420.54L74.11 420.54M72.31 422.15L74.11 422.15" stroke="#8f0f24" stroke-width="1.1"/>
<path d="M73.21 417.69L76.31 423.58L70.11 423.58Z" fill="none" stroke="#8f0f24" stroke-width="1.1"/>
<path d="M76.11 419.06L76.11 420.67M75.21 419.06L77.01 419.06M75.21 420.67L77.01 420.67" stroke="#8f0f24" stroke-width="1.1"/>
<path d="M76.11 416.21L79.21 422.10L73.01 422.10Z" fill="none" stroke="#8f0f24" stroke-width="1.1"/>
<path d="M79.02 425.13L79.02 426.74M78.12 425.13L79.92 425.13M78.12 426.74L79.92 426.74" stroke="#8f0f24" stroke-width="1.1"/>
<path d="M79.02 422.28L82.12 428.17L75.92 428.17Z" fill="none" stroke="#8f0f24" stroke-width="1.1"/>
<path d="M81.92 425.13L81.92 426.74M81.02 425.13L82.83 425.13M81.02 426.74L82.83 426.74" stroke="#8f0f24" stroke-width="1.1"/>
<path d="M81.92 422.28L85.02 428.17L78.83 428.17Z" fill="none" stroke="#8f0f24" stroke-width="1.1"/>
<path d="M84.83 425.74L84.83 427.35M83.93 425.74L85.73 425.74M83.93 427.35L85.73 427.35" stroke="#8f0f24" stroke-width="1.1"/>
<path d="M84.83 422.89L87.93 428.78L81.73 428.78Z" fill="none" stroke="#8f0f24" stroke-width="1.1"/>
<path d="M87.74 431.27L87.74 432.88M86.84 431.27L88.64 431.27M86.84 432.88L88.64 432.88" stroke="#8f0f24" stroke-width="1.1"/>
<path d="M87.74 428.42L90.84 434.31L84.64 434.31Z" fill="none" stroke="#8f0f24" stroke-width="1.1"/>
<path d="M90.64 431.92L90.64 433.53M89.74 431.92L91.54 431.92M89.74 433.53L91.54 433.53" stroke="#8f0f24" stroke-width="1.1"/>
<path d="M90.64 429.07L93.74 434.96L87.54 434.96Z" fill="none" stroke="#8f0f24" stroke-width="1.1"/>
<path d="M93.55 430.49L93.55 432.10M92.65 430.49L94.45 430.49M92.65 432.10L94.45 432.10" stroke="#8f0f24" stroke-width="1.1"/>
<path d="M93.55 427.64L96.65 433.53L90.45 433.53Z" fill="none" stroke="#8f0f24" stroke-width="1.1"/>
<path d="M96.45 428.96L96.45 430.57M95.55 428.96L97.36 428.96M95.55 430.57L97.36 430.57" stroke="#8f0f24" stroke-width="1.1"/>
<path d="M96.45 426.11L99.55 432.00L93.36 432.00Z" fill="none" stroke="#8f0f24" stroke-width="1.1"/>
<path d="M99.36 433.50L99.36 435.11M98.46 433.50L100.26 433.50M98.46 435.11L100.26 435.11" stroke="#8f0f24" stroke-width="1.1"/>
<path d="M99.36 430.65L102.46 436.54L96.26 436.54Z" fill="none" stroke="#8f0f24" stroke-width="1.1"/>
<path d="M102.27 431.53L102.27 433.14M101.37 431.53L103.17 431.53M101.37 433.14L103.17 433.14" stroke="#8f0f24" stroke-width="1.1"/>
<path d="M102.27 428.68L105.37 434.57L99.17 434.57Z" fill="none" stroke="#8f0f24" stroke-width="1.1"/>
<path d="M106.63 430.75L106.63 432.36M105.73 430.75L107.53 430.75M105.73 432.36L107.53 432.36" stroke="#8f0f24" stroke-width="1.1"/>
<path d="M106.63 427.90L109.73 433.79L103.53 433.79Z" fill="none" stroke="#8f0f24" stroke-width="1.1"/>
<path d="M112.44 432.71L112.44 434.31M111.54 432.71L113.34 432.71M111.54 434.31L113.34 434.31" stroke="#8f0f24" stroke-width="1.1"/>
<path d="M112.44 429.86L115.54 435.75L109.34 435.75Z" fill="none" stroke="#8f0f24" stroke-width="1.1"/>
<path d="M118.25 426.35L118.25 427.96M117.35 426.35L119.15 426.35M117.35 427.96L119.15 427.96" stroke="#8f0f24" stroke-width="1.1"/>
<path d="M118.25 423.50L121.35 429.39L115.15 429.39Z" fill="none" stroke="#8f0f24" stroke-width="1.1"/>
<path d="M124.06 426.23L124.06 427.84M123.16 426.23L124.96 426.23M123.16 427.84L124.96 427.84" stroke="#8f0f24" stroke-width="1.1"/>
<path d="M124.06 423.38L127.16 429.27L120.96 429.27Z" fill="none" stroke="#8f0f24" stroke-width="1.1"/>
<path d="M129.87 418.73L129.87 420.33M128.97 418.73L130.77 418.73M128.97 420.33L130.77 420.33" stroke="#8f0f24" stroke-width="1.1"/>
<path d="M129.87 415.87L132.97 421.76L126.77 421.76Z" fill="none" stroke="#8f0f24" stroke-width="1.1"/>
<path d="M140.04 416.58L140.04 419.60M139.14 416.58L140.94 416.58M139.14 419.60L140.94 419.60" stroke="#8f0f24" stroke-width="1.1"/>
<path d="M140.04 414.43L143.14 420.32L136.94 420.32Z" fill="none" stroke="#8f0f24" stroke-width="1.1"/>
<path d="M154.57 418.97L154.57 422.61M153.67 418.97L155.47 418.97M153.67 422.61L155.47 422.61" stroke="#8f0f24" stroke-width="1.1"/>
<path d="M154.57 417.12L157.67 423.01L151.47 423.01Z" fill="none" stroke="#8f0f24" stroke-width="1.1"/>
<path d="M169.10 405.67L169.10 410.13M168.20 405.67L170.00 405.67M168.20 410.13L170.00 410.13" stroke="#8f0f24" stroke-width="1.1"/>
<path d="M169.10 404.22L172.20 410.11L166.00 410.11Z" fill="none" stroke="#8f0f24" stroke-width="1.1"/>
<path d="M183.63 393.30L183.63 400.45M182.73 393.30L184.53 393.30M182.73 400.45L184.53 400.45" stroke="#8f0f24" stroke-width="1.1"/>
<path d="M183.63 393.15L186.73 399.04L180.53 399.04Z" fill="none" stroke="#8f0f24" stroke-width="1.1"/>
<path d="M205.43 391.17L205.43 398.31M204.53 391.17L206.33 391.17M204.53 398.31L206.33 398.31" stroke="#8f0f24" stroke-width="1.1"/>
<path d="M205.43 391.01L208.53 396.90L202.33 396.90Z" fill="none" stroke="#8f0f24" stroke-width="1.1"/>
<path d="M249.02 388.75L249.02 395.90M248.12 388.75L249.92 388.75M248.12 395.90L249.92 395.90" stroke="#8f0f24" stroke-width="1.1"/>
<path d="M249.02 388.60L252.12 394.49L245.92 394.49Z" fill="none" stroke="#8f0f24" stroke-width="1.1"/>
<path d="M321.67 371.51L321.67 386.12M320.77 371.51L322.57 371.51M320.77 386.12L322.57 386.12" stroke="#8f0f24" stroke-width="1.1"/>
<path d="M321.67 374.86L324.77 380.75L318.57 380.75Z" fill="none" stroke="#8f0f24" stroke-width="1.1"/>
<polyline points="58.68,391.51 61.58,403.74 64.49,409.56 67.39,421.34 70.30,426.54 73.21,433.11 76.11,434.30 79.02,438.95 81.92,439.65 84.83,434.30 87.74,440.36 90.64,440.36 93.55,441.95 96.45,438.11 99.36,443.41 102.27,438.95 106.63,435.78 112.44,438.95 118.25,433.51 124.06,430.02 129.87,427.40 140.04,431.17 154.57,432.72 169.10,429.89 183.63,420.66 205.43,422.26 249.02,420.32 321.67,404.02" fill="none" stroke="#0a0af0" stroke-width="1.1"/>
<path d="M58.68 390.71L58.68 392.32M57.78 390.71L59.58 390.71M57.78 392.32L59.58 392.32" stroke="#0a0af0" stroke-width="1.1"/>
<path d="M58.68 387.98L61.68 393.68L55.68 393.68Z" fill="#0a0af0"/>
<path d="M61.58 402.94L61.58 404.55M60.68 402.94L62.48 402.94M60.68 404.55L62.48 404.55" stroke="#0a0af0" stroke-width="1.1"/>
<path d="M61.58 400.21L64.58 405.91L58.58 405.91Z" fill="#0a0af0"/>
<path d="M64.49 408.76L64.49 410.36M63.59 408.76L65.39 408.76M63.59 410.36L65.39 410.36" stroke="#0a0af0" stroke-width="1.1"/>
<path d="M64.49 406.02L67.49 411.72L61.49 411.72Z" fill="#0a0af0"/>
<path d="M67.39 420.54L67.39 422.15M66.49 420.54L68.30 420.54M66.49 422.15L68.30 422.15" stroke="#0a0af0" stroke-width="1.1"/>
<path d="M67.39 417.81L70.39 423.51L64.39 423.51Z" fill="#0a0af0"/>
<path d="M70.30 425.74L70.30 427.35M69.40 425.74L71.20 425.74M69.40 427.35L71.20 427.35" stroke="#0a0af0" stroke-width="1.1"/>
<path d="M70.30 423.01L73.30 428.71L67.30 428.71Z" fill="#0a0af0"/>
<path d="M73.21 432.31L73.21 433.92M72.31 432.31L74.11 432.31M72.31 433.92L74.11 433.92" stroke="#0a0af0" stroke-width="1.1"/>
<path d="M73.21 429.58L76.21 435.28L70.21 435.28Z" fill="#0a0af0"/>
<path d="M76.11 433.50L76.11 435.11M75.21 433.50L77.01 433.50M75.21 435.11L77.01 435.11" stroke="#0a0af0" stroke-width="1.1"/>
<path d="M76.11 430.77L79.11 436.47L73.11 436.47Z" fill="#0a0af0"/>
<path d="M79.02 438.15L79.02 439.76M78.12 438.15L79.92 438.15M78.12 439.76L79.92 439.76" stroke="#0a0af0" stroke-width="1.1"/>
<path d="M79.02 435.41L82.02 441.11L76.02 441.11Z" fill="#0a0af0"/>
<path d="M81.92 438.85L81.92 440.46M81.02 438.85L82.83 438.85M81.02 440.46L82.83 440.46" stroke="#0a0af0" stroke-width="1.1"/>
<path d="M81.92 436.12L84.92 441.82L78.92 441.82Z" fill="#0a0af0"/>
<path d="M84.83 433.50L84.83 435.11M83.93 433.50L85.73 433.50M83.93 435.11L85.73 435.11" stroke="#0a0af0" stroke-width="1.1"/>
<path d="M84.83 430.77L87.83 436.47L81.83 436.47Z" fill="#0a0af0"/>
<path d="M87.74 439.56L87.74 441.17M86.84 439.56L88.64 439.56M86.84 441.17L88.64 441.17" stroke="#0a0af0" stroke-width="1.1"/>
<path d="M87.74 436.83L90.74 442.53L84.74 442.53Z" fill="#0a0af0"/>
<path d="M90.64 439.56L90.64 441.17M89.74 439.56L91.54 439.56M89.74 441.17L91.54 441.17" stroke="#0a0af0" stroke-width="1.1"/>
<path d="M90.64 436.83L93.64 442.53L87.64 442.53Z" fill="#0a0af0"/>
<path d="M93.55 441.15L93.55 442.75M92.65 441.15L94.45 441.15M92.65 442.75L94.45 442.75" stroke="#0a0af0" stroke-width="1.1"/>
<path d="M93.55 438.41L96.55 444.11L90.55 444.11Z" fill="#0a0af0"/>
<path d="M96.45 437.31L96.45 438.92M95.55 437.31L97.36 437.31M95.55 438.92L97.36 438.92" stroke="#0a0af0" stroke-width="1.1"/>
<path d="M96.45 434.58L99.45 440.28L93.45 440.28Z" fill="#0a0af0"/>
<path d="M99.36 442.61L99.36 444.22M98.46 442.61L100.26 442.61M98.46 444.22L100.26 444.22" stroke="#0a0af0" stroke-width="1.1"/>
<path d="M99.36 439.88L102.36 445.58L96.36 445.58Z" fill="#0a0af0"/>
<path d="M102.27 438.15L102.27 439.76M101.37 438.15L103.17 438.15M101.37 439.76L103.17 439.76" stroke="#0a0af0" stroke-width="1.1"/>
<path d="M102.27 435.41L105.27 441.11L99.27 441.11Z" fill="#0a0af0"/>
<path d="M106.63 434.98L106.63 436.59M105.73 434.98L107.53 434.98M105.73 436.59L107.53 436.59" stroke="#0a0af0" stroke-width="1.1"/>
<path d="M106.63 432.24L109.63 437.94L103.63 437.94Z" fill="#0a0af0"/>
<path d="M112.44 438.15L112.44 439.76M111.54 438.15L113.34 438.15M111.54 439.76L113.34 439.76" stroke="#0a0af0" stroke-width="1.1"/>
<path d="M112.44 435.41L115.44 441.11L109.44 441.11Z" fill="#0a0af0"/>
<path d="M118.25 432.71L118.25 434.31M117.35 432.71L119.15 432.71M117.35 434.31L119.15 434.31" stroke="#0a0af0" stroke-width="1.1"/>
<path d="M118.25 429.97L121.25 435.67L115.25 435.67Z" fill="#0a0af0"/>
<path d="M124.06 429.22L124.06 430.83M123.16 429.22L124.96 429.22M123.16 430.83L124.96 430.83" stroke="#0a0af0" stroke-width="1.1"/>
<path d="M124.06 426.48L127.06 432.18L121.06 432.18Z" fill="#0a0af0"/>
<path d="M129.87 426.60L129.87 428.20M128.97 426.60L130.77 426.60M128.97 428.20L130.77 428.20" stroke="#0a0af0" stroke-width="1.1"/>
<path d="M129.87 423.86L132.87 429.56L126.87 429.56Z" fill="#0a0af0"/>
<path d="M140.04 428.67L140.04 433.74M139.14 428.67L140.94 428.67M139.14 433.74L140.94 433.74" stroke="#0a0af0" stroke-width="1.1"/>
<path d="M140.04 427.63L143.04 433.33L137.04 433.33Z" fill="#0a0af0"/>
<path d="M154.57 429.92L154.57 435.61M153.67 429.92L155.47 429.92M153.67 435.61L155.47 435.61" stroke="#0a0af0" stroke-width="1.1"/>
<path d="M154.57 429.19L157.57 434.89L151.57 434.89Z" fill="#0a0af0"/>
<path d="M169.10 426.69L169.10 433.21M168.20 426.69L170.00 426.69M168.20 433.21L170.00 433.21" stroke="#0a0af0" stroke-width="1.1"/>
<path d="M169.10 426.36L172.10 432.06L166.10 432.06Z" fill="#0a0af0"/>
<path d="M183.63 416.16L183.63 425.40M182.73 416.16L184.53 416.16M182.73 425.40L184.53 425.40" stroke="#0a0af0" stroke-width="1.1"/>
<path d="M183.63 417.12L186.63 422.82L180.63 422.82Z" fill="#0a0af0"/>
<path d="M205.43 417.76L205.43 427.01M204.53 417.76L206.33 417.76M204.53 427.01L206.33 427.01" stroke="#0a0af0" stroke-width="1.1"/>
<path d="M205.43 418.73L208.43 424.43L202.43 424.43Z" fill="#0a0af0"/>
<path d="M249.02 415.82L249.02 425.06M248.12 415.82L249.92 415.82M248.12 425.06L249.92 425.06" stroke="#0a0af0" stroke-width="1.1"/>
<path d="M249.02 416.78L252.02 422.48L246.02 422.48Z" fill="#0a0af0"/>
<path d="M321.67 396.02L321.67 412.83M320.77 396.02L322.57 396.02M320.77 412.83L322.57 412.83" stroke="#0a0af0" stroke-width="1.1"/>
<path d="M321.67 400.49L324.67 406.19L318.67 406.19Z" fill="#0a0af0"/>
</g>
<rect x="73.50" y="221.00" width="5.8" height="5.8" fill="#000"/>
<text x="94.30" y="227.30" font-size="9.4" text-anchor="start" >ALICE</text>
<line x1="63.9" y1="236.9" x2="88.8" y2="236.9" stroke="#f88585" stroke-width="1.2" opacity="0.8"/>
<path d="M76.4 233.9L76.4 239.9" stroke="#f88585" stroke-width="1"/><circle cx="76.4" cy="236.9" r="1.7" fill="#fdd" stroke="#f88585" stroke-width="1.3"/>
<text x="94.30" y="240.30" font-size="9.4" text-anchor="start" >Epos 1.99.crmc.1.6.0 lhc</text>
<line x1="63.9" y1="250.0" x2="88.8" y2="250.0" stroke="#23606b" stroke-width="1.2" opacity="0.8"/>
<path d="M76.40 253.49L79.30 247.86L73.50 247.86Z" fill="#23606b"/>
<text x="94.30" y="253.40" font-size="9.4" text-anchor="start" >Herwig 7.2.1 softTune</text>
<line x1="63.9" y1="263.1" x2="88.8" y2="263.1" stroke="#8f0f24" stroke-width="1.2" opacity="0.8"/>
<path d="M76.40 259.68L79.30 265.19L73.50 265.19Z" fill="none" stroke="#8f0f24" stroke-width="1.1"/>
<text x="94.30" y="266.50" font-size="9.4" text-anchor="start" >Pythia 6.428 370</text>
<line x1="63.9" y1="276.0" x2="88.8" y2="276.0" stroke="#0a0af0" stroke-width="1.2" opacity="0.8"/>
<path d="M76.40 272.58L79.30 278.09L73.50 278.09Z" fill="#0a0af0"/>
<text x="94.30" y="279.40" font-size="9.4" text-anchor="start" >Pythia 8.315 default</text>
</svg></body></html>
